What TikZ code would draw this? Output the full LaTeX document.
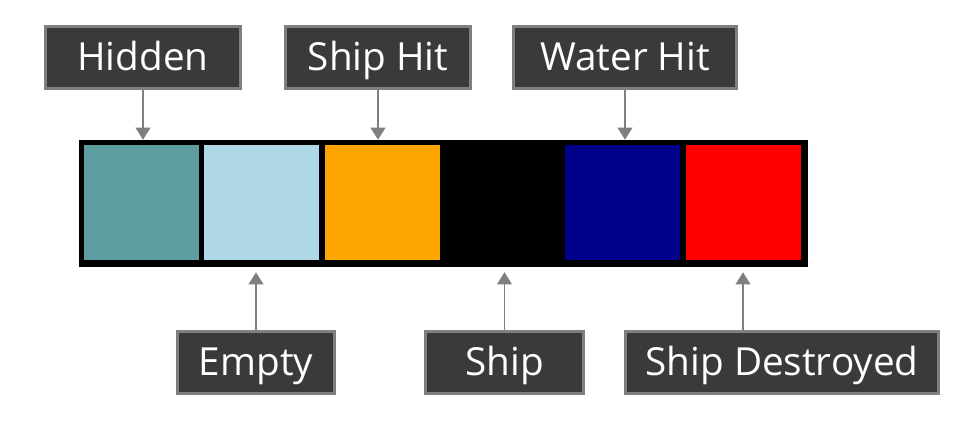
\documentclass[tikz,border=0pt]{standalone}
\usepackage{fontspec}
\setmainfont{Open Sans}
\usetikzlibrary{arrows.meta}
\definecolor{labelfill}{HTML}{3A3A3A}
\definecolor{labeledge}{HTML}{7F7F7F}
\definecolor{cellteal}{HTML}{5F9EA0}
\definecolor{celllight}{HTML}{AFD8E6}
\definecolor{cellorange}{HTML}{FFA500}
\definecolor{cellnavy}{HTML}{00008B}
\definecolor{cellred}{HTML}{FF0000}
\tikzset{
  tag/.style={fill=labelfill,draw=labeledge,line width=2.25pt,text=white,
    font=\fontsize{29}{34}\selectfont,minimum height=46.5pt,inner sep=0pt,
    text height=20.7pt,text depth=0pt},
  cell/.style={minimum size=86.25pt,inner sep=0pt},
  pointer/.style={draw=labeledge,line width=1.1pt,-{Triangle[width=11pt,length=9pt]}}
}
\begin{document}
\begin{tikzpicture}[x=0.75pt,y=-0.75pt]
\useasboundingbox (0,0) rectangle (963,425);
\node[fill=black,minimum width=546.75pt,minimum height=95.25pt,inner sep=0pt] (strip) at (443.5,203.5) {};
\foreach \c [count=\i] in {cellteal,celllight,cellorange,black,cellnavy,cellred}
\node[cell,fill=\c] (sq\i) at (141.5+120.3*\i-120.3,202.5) {};
\node[tag,minimum width=146.25pt] (hidden) at (143,57) {Hidden};
\node[tag,minimum width=138.75pt] (shiphit) at (378,57) {Ship Hit};
\node[tag,minimum width=167.25pt] (waterhit) at (625,57) {Water Hit};
\node[tag,minimum width=117.75pt] (empty) at (256,362) {Empty};
\node[tag,minimum width=118.5pt] (ship) at (504.5,362) {Ship};
\node[tag,minimum width=234.75pt] (destroyed) at (782,362) {Ship Destroyed};
\foreach \n in {hidden,shiphit,waterhit}
\draw[pointer] (\n) -- (\n |- strip.north);
\foreach \n in {empty,ship}
\draw[pointer,shorten >=3.75pt] (\n) -- (\n |- strip.south);
\draw[pointer,shorten >=3.75pt] (sq6 |- destroyed.north) -- (sq6 |- strip.south);
\end{tikzpicture}
\end{document}
